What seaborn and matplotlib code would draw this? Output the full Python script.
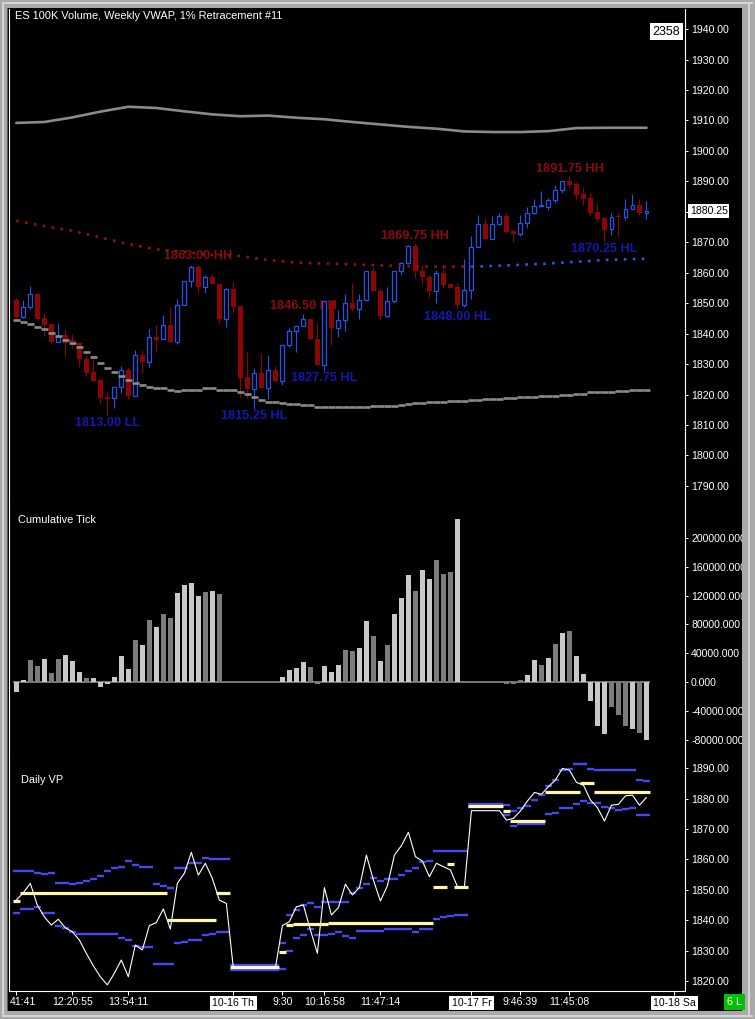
import numpy as np
import matplotlib
matplotlib.use("Agg")
import matplotlib.pyplot as plt
from matplotlib.patches import Rectangle
from matplotlib.ticker import FormatStrFormatter
import seaborn as sns

# ---- price bars (100K volume each) ----
opens = [1851.0, 1845.6, 1848.9, 1853.0, 1845.0, 1843.1, 1837.4, 1839.5, 1837.9, 1836.8,
         1831.6, 1827.3, 1824.8, 1819.1, 1818.8, 1822.4, 1828.1, 1819.6, 1832.9, 1830.8,
         1838.9, 1838.1, 1842.8, 1837.1, 1849.3, 1857.2, 1861.8, 1855.2, 1858.5, 1856.2,
         1844.7, 1854.6, 1849.1, 1825.7, 1821.7, 1827.0, 1822.1, 1828.0, 1824.6, 1836.2,
         1840.8, 1842.4, 1844.8, 1838.2, 1829.6, 1850.7, 1841.7, 1844.5, 1850.0, 1848.2,
         1851.1, 1860.5, 1854.1, 1845.9, 1850.6, 1860.6, 1863.1, 1868.8, 1860.7, 1858.7,
         1854.1, 1859.8, 1856.2, 1855.2, 1849.4, 1854.3, 1868.3, 1876.0, 1871.2, 1876.0,
         1878.6, 1873.7, 1872.6, 1876.4, 1879.5, 1881.9, 1881.7, 1883.9, 1887.2, 1890.0,
         1889.1, 1885.7, 1884.4, 1879.8, 1877.9, 1874.3, 1878.4, 1878.4, 1880.8, 1882.1,
         1879.7]
highs = [1851.6, 1851.0, 1855.6, 1853.2, 1846.7, 1843.1, 1843.4, 1841.4, 1839.9, 1837.2,
         1832.7, 1832.7, 1824.8, 1821.0, 1822.4, 1829.4, 1829.2, 1834.6, 1834.6, 1841.5,
         1842.8, 1846.1, 1848.6, 1851.4, 1857.2, 1862.5, 1863.0, 1859.3, 1859.6, 1856.2,
         1854.9, 1857.3, 1849.1, 1834.1, 1828.6, 1833.6, 1833.0, 1829.4, 1836.2, 1841.9,
         1842.4, 1846.5, 1844.8, 1843.4, 1850.7, 1851.0, 1847.8, 1852.9, 1856.5, 1852.9,
         1860.5, 1862.0, 1854.9, 1855.2, 1860.6, 1863.6, 1869.1, 1869.75, 1862.6, 1859.3,
         1860.9, 1862.6, 1856.5, 1856.5, 1864.4, 1872.1, 1879.0, 1877.9, 1878.6, 1879.5,
         1879.5, 1874.2, 1879.0, 1881.7, 1884.1, 1886.8, 1884.4, 1888.8, 1890.2, 1891.75,
         1889.9, 1888.3, 1886.6, 1882.6, 1878.4, 1879.7, 1879.5, 1884.1, 1885.9, 1884.1,
         1883.7]
lows = [1845.0, 1845.0, 1848.0, 1844.5, 1839.2, 1836.8, 1837.1, 1832.7, 1835.2, 1828.9,
        1826.1, 1824.6, 1817.1, 1813.0, 1815.5, 1820.4, 1818.5, 1819.6, 1827.0, 1829.0,
        1834.1, 1838.1, 1837.1, 1836.5, 1849.3, 1855.4, 1853.8, 1853.2, 1856.2, 1843.2,
        1842.3, 1846.7, 1819.3, 1819.0, 1815.25, 1822.1, 1818.5, 1824.6, 1823.0, 1835.5,
        1834.1, 1842.4, 1838.2, 1829.6, 1827.75, 1836.3, 1839.0, 1841.0, 1847.4, 1844.7,
        1850.6, 1854.1, 1844.8, 1845.4, 1850.0, 1859.3, 1863.1, 1858.2, 1856.0, 1852.2,
        1850.0, 1855.0, 1855.1, 1848.0, 1848.9, 1851.3, 1868.3, 1871.2, 1871.2, 1876.0,
        1872.9, 1870.2, 1872.2, 1874.6, 1879.3, 1881.7, 1880.6, 1882.8, 1886.3, 1888.3,
        1884.1, 1882.2, 1879.0, 1876.7, 1870.25, 1872.4, 1871.8, 1877.3, 1880.8, 1879.0,
        1877.5]
closes = [1845.6, 1848.9, 1852.9, 1844.7, 1842.8, 1837.4, 1839.2, 1836.8, 1837.3, 1831.6,
          1827.2, 1824.6, 1819.0, 1818.7, 1822.4, 1828.1, 1819.6, 1832.9, 1830.8, 1838.8,
          1838.0, 1842.7, 1837.1, 1849.3, 1857.2, 1861.8, 1855.2, 1858.5, 1856.2, 1844.7,
          1854.6, 1848.9, 1825.6, 1821.7, 1827.0, 1822.1, 1828.0, 1824.6, 1836.2, 1840.8,
          1842.4, 1844.8, 1838.2, 1829.6, 1850.7, 1841.7, 1844.5, 1850.0, 1848.2, 1851.1,
          1860.5, 1854.1, 1845.9, 1850.6, 1860.6, 1863.1, 1868.8, 1860.7, 1858.7, 1854.1,
          1859.8, 1856.0, 1855.1, 1849.4, 1854.3, 1868.3, 1876.0, 1871.2, 1876.0, 1878.6,
          1873.5, 1872.6, 1876.4, 1879.5, 1881.9, 1882.0, 1883.9, 1887.2, 1890.0, 1888.8,
          1885.6, 1884.1, 1879.7, 1877.8, 1874.0, 1878.4, 1878.2, 1880.8, 1882.1, 1879.7,
          1880.25]

# swing point labels (bar index, tag)
swing_bar = [13, 26, 34, 41, 44, 57, 63, 79, 84]
swing_tag = ['LL', 'HH', 'HL', 'LH', 'HL', 'HH', 'HL', 'HH', 'HL']

# weekly VWAP (dotted) and its bands (gray)
vwap_bar = [0, 4, 8, 12, 16, 20, 24, 28, 32, 36, 40, 46, 52, 60, 65, 70, 75, 80, 84, 90]
vwap_val = [1877.1, 1875.3, 1873.8, 1871.6, 1869.4, 1867.7, 1866.8, 1865.8, 1865.5, 1864.2,
            1863.3, 1862.9, 1862.4, 1862.0, 1862.0, 1862.4, 1862.9, 1863.6, 1864.2, 1864.6]
vwap_flip = 65  # dots turn blue from here on
upper_bar = [0, 4, 8, 12, 16, 20, 24, 28, 32, 36, 40, 44, 48, 52, 56, 60, 64, 68, 72, 76,
             80, 84, 88, 90]
upper_val = [1909.2, 1909.5, 1911.0, 1912.9, 1914.5, 1914.1, 1913.0, 1912.0, 1911.4, 1911.6,
             1910.9, 1910.4, 1909.5, 1908.7, 1907.9, 1907.3, 1906.4, 1906.2, 1906.2, 1906.5,
             1907.5, 1907.6, 1907.6, 1907.6]
lower_val = [1844.6, 1843.9, 1843.3, 1842.3, 1841.6, 1840.3, 1839.2, 1838.0, 1837.0, 1835.7,
             1834.1, 1832.4, 1830.5, 1828.8, 1827.5, 1826.2, 1824.9, 1823.9, 1823.3, 1822.6,
             1822.3, 1822.0, 1821.5, 1821.3, 1821.6, 1821.6, 1821.6, 1822.0, 1822.0, 1821.5,
             1821.5, 1821.5, 1821.0, 1820.1, 1819.3, 1818.3, 1817.7, 1817.7, 1817.3, 1816.8,
             1816.8, 1816.6, 1816.6, 1816.0, 1816.0, 1816.0, 1816.0, 1816.0, 1816.0, 1816.0,
             1816.0, 1816.3, 1816.3, 1816.3, 1816.4, 1816.7, 1816.8, 1817.1, 1817.2, 1817.5,
             1817.5, 1817.5, 1817.8, 1817.9, 1817.9, 1818.1, 1818.1, 1818.5, 1818.5, 1818.5,
             1818.8, 1818.8, 1819.2, 1819.2, 1819.2, 1819.6, 1819.6, 1819.6, 1819.9, 1819.9,
             1820.3, 1820.3, 1820.8, 1820.8, 1821.0, 1821.0, 1821.3, 1821.3, 1821.6, 1821.6,
             1821.6]

# ---- cumulative tick ----
cum_tick = [-14300, 3200, 30900, 22600, 32300, 12000, 32300, 37800, 29500, 14300,
            6000, 6000, -7400, -2800, 7400, 36400, 18400, 58500, 51600, 86200,
            77000, 94000, 89400, 123500, 134100, 137300, 119300, 124900, 126300, 122100,
            0, 0, 0, 0, 0, 0, 0, 0, 7400, 17000,
            19800, 28100, 21200, -2800, 22600, 14300, 24000, 44700, 43300, 47500,
            84800, 64100, 29500, 51600, 94500, 116600, 148400, 126300, 155300, 142800,
            169100, 149800, 152500, 226700, 1400, 0, 0, 0, 0, 0,
            -2800, -2800, 2800, 10100, 30900, 24000, 33600, 53000, 68200, 71000,
            36400, 11500, -26700, -60400, -72800, -35000, -45200, -60400, -65900, -71400,
            -80600]
tick_shade = ("LLDDLDDLLL" "DLLLLLLDLD" "LDDLLLLDLD" "DDDDDDDDLL" "LLDDLLLDDL"
              "LDLDLLLDLL" "DDDLDDDDDD" "DDDLLDLDLD" "LLLLLDDDLDL")

# ---- daily volume profile: value area high / low and POC as step runs ----
vah_start = [0, 3, 4, 5, 6, 8, 9, 10, 11, 12, 13, 14, 15, 16, 17, 18, 20, 21, 22, 23, 25,
             27, 28, 31, 38, 39, 40, 41, 42, 43, 44, 48, 49, 50, 51, 52, 53, 54, 55, 56, 57,
             58, 59, 60, 65, 70, 71, 72, 73, 74, 75, 76, 77, 78, 79, 80, 82, 83, 89, 90]
vah_level = [1856.3, 1855.6, 1855.1, 1855.6, 1852.1, 1851.8, 1852.1, 1852.9, 1853.6, 1854.6,
             1856.3, 1857.3, 1857.6, 1859.6, 1858.3, 1857.6, 1851.8, 1851.3, 1850.7, 1857.3,
             1858.7, 1860.5, 1860.2, 1825.3, 1832.6, 1841.7, 1843.4, 1845.0, 1845.8, 1844.4,
             1846.1, 1848.8, 1850.7, 1852.0, 1853.8, 1852.9, 1853.4, 1853.6, 1854.8, 1856.2,
             1857.3, 1859.0, 1859.4, 1862.7, 1878.2, 1877.8, 1875.9, 1877.0, 1877.6, 1879.6,
             1881.1, 1884.2, 1886.2, 1889.4, 1889.7, 1891.4, 1889.7, 1889.4, 1886.2, 1885.7]
val_start = [0, 1, 3, 4, 6, 7, 8, 9, 15, 16, 17, 18, 20, 23, 24, 25, 27, 28, 29, 31, 38,
             39, 40, 41, 42, 43, 45, 46, 47, 48, 49, 53, 57, 58, 60, 61, 62, 63, 65, 70, 71,
             72, 76, 77, 78, 80, 81, 82, 84, 85, 86, 87, 88, 89]
val_level = [1842.5, 1843.7, 1844.2, 1842.5, 1838.2, 1837.3, 1836.2, 1835.4, 1834.2, 1833.5,
             1831.6, 1831.3, 1825.7, 1832.6, 1832.9, 1833.4, 1835.1, 1835.6, 1836.2, 1823.5,
             1824.0, 1830.0, 1834.2, 1835.1, 1837.0, 1835.1, 1835.3, 1836.0, 1834.9, 1834.2,
             1836.5, 1837.2, 1836.2, 1837.2, 1840.5, 1841.1, 1841.5, 1841.8, 1877.1, 1874.6,
             1871.0, 1871.7, 1874.9, 1875.2, 1877.0, 1878.2, 1879.3, 1878.6, 1877.3, 1877.0,
             1876.3, 1876.6, 1877.0, 1874.6]
poc_start = [0, 1, 22, 29, 31, 38, 39, 40, 45, 60, 62, 63, 65, 70, 71, 76, 81, 83]
poc_level = [1846.3, 1848.9, 1840.05, 1848.9, 1824.7, 1829.6, 1838.4, 1838.6, 1838.95, 1850.8,
             1858.4, 1850.8, 1877.6, 1875.9, 1872.6, 1882.0, 1885.0, 1882.0]
vp_close = [1846.6, 1849.0, 1852.1, 1845.0, 1841.1, 1838.4, 1840.3, 1837.5, 1836.2, 1833.5,
            1829.1, 1825.0, 1821.4, 1818.7, 1822.5, 1826.9, 1821.4, 1831.8, 1830.2, 1838.2,
            1839.2, 1843.7, 1837.1, 1852.1, 1855.4, 1862.3, 1854.8, 1858.7, 1853.7, 1846.6,
            1845.5, 1824.2, 1824.2, 1824.2, 1824.2, 1824.2, 1824.2, 1824.2, 1838.2, 1839.5,
            1844.4, 1845.0, 1836.8, 1829.1, 1850.7, 1841.7, 1844.1, 1851.8, 1848.3, 1850.7,
            1861.4, 1853.2, 1846.3, 1851.3, 1861.4, 1864.5, 1868.9, 1860.9, 1859.4, 1854.3,
            1858.7, 1857.6, 1856.5, 1851.0, 1851.0, 1876.0, 1876.0, 1876.0, 1876.0, 1876.0,
            1872.9, 1873.5, 1875.9, 1879.2, 1882.0, 1881.4, 1883.9, 1886.1, 1889.9, 1889.3,
            1885.3, 1884.4, 1879.5, 1877.0, 1872.6, 1877.8, 1878.1, 1880.9, 1881.1, 1877.8,
            1880.4]

# time axis
tick_bars = [0, 8, 16, 31, 38, 44, 52, 65, 72, 79, 94]
tick_labels = ['41:41', '12:20:55', '13:54:11', '10-16 Th', '9:30', '10:16:58', '11:47:14',
               '10-17 Fr', '9:46:39', '11:45:08', '10-18 Sa']

RED = '#8c0505'
BLUE = '#2255e8'
RED_TXT = '#880c0c'
BLUE_TXT = '#1616b0'
GRAY = '#8a8a8a'
VA_BLUE = '#4848f2'
POC_YEL = '#fff7a8'

sns.set_theme(style='dark')
plt.rcParams['font.family'] = ['Liberation Sans', 'DejaVu Sans']

W, H = 755, 1019
fig = plt.figure(figsize=(W / 100, H / 100), dpi=100, facecolor='black')


def rect(x0, y0, x1, y1):
    # pixel box (from top-left) -> figure fraction
    return [x0 / W, 1 - y1 / H, (x1 - x0) / W, (y1 - y0) / H]


ax_top = fig.add_axes(rect(9, 9, 685, 503))
ax_mid = fig.add_axes(rect(9, 503, 685, 752))
ax_bot = fig.add_axes(rect(9, 752, 685, 991))

n = len(closes)
x = np.arange(n)
o, h, l, c = map(np.array, (opens, highs, lows, closes))

for ax in (ax_top, ax_mid, ax_bot):
    ax.set_facecolor('black')
    ax.grid(False)
    ax.set_xlim(-1.04, 95.5)
    for side in ('top', 'bottom'):
        ax.spines[side].set_visible(False)
    for side in ('left', 'right'):
        ax.spines[side].set_color('white')
        ax.spines[side].set_linewidth(0.8)
    ax.yaxis.set_ticks_position('right')
    ax.tick_params(axis='y', right=True, left=False, labelright=True, labelleft=False,
                   direction='out', length=2.2, width=0.7, color='white',
                   labelcolor='white', labelsize=7.6, pad=2.2)
    ax.tick_params(axis='x', bottom=False, labelbottom=False)

# ---------------- top panel ----------------
ax_top.set_ylim(1784.4, 1946.6)
ax_top.set_yticks(np.arange(1790, 1941, 10))
ax_top.yaxis.set_major_formatter(FormatStrFormatter('%.2f'))

up = c >= o
ax_top.vlines(x, l, h, colors=np.where(up, BLUE, RED), linewidth=0.8, zorder=3)
body_lo = np.minimum(o, c)
body_h = np.maximum(np.abs(c - o), 0.35)
ax_top.bar(x[~up], body_h[~up], bottom=body_lo[~up], width=0.7, color=RED,
           linewidth=0, zorder=4)
ax_top.bar(x[up], body_h[up], bottom=body_lo[up], width=0.56, facecolor='black',
           edgecolor=BLUE, linewidth=0.9, zorder=4)

# VWAP bands
sns.lineplot(x=upper_bar, y=upper_val, ax=ax_top, color=GRAY, linewidth=1.9, zorder=5)
ax_top.hlines(lower_val, x - 0.5, x + 0.5, colors=GRAY, linewidth=1.9, zorder=5)

# dotted weekly VWAP, red below / blue above
vb = np.array(vwap_bar)
vv = np.array(vwap_val)
dots = dict(linewidth=1.9, linestyle=(0, (1, 2.4)), dash_capstyle='butt', zorder=5)
ax_top.plot(vb[vb <= vwap_flip], vv[vb <= vwap_flip], color='#921212', **dots)
ax_top.plot(vb[vb >= vwap_flip], vv[vb >= vwap_flip], color='#2b58e0', **dots)

for b, tag in zip(swing_bar, swing_tag):
    if tag.endswith('H'):
        val, col, va, dy = highs[b], RED_TXT, 'bottom', 1.0
    else:
        val, col, va, dy = lows[b], BLUE_TXT, 'top', -1.0
    ax_top.annotate(f'{val:.2f} {tag}', xy=(b, val), xytext=(0, dy),
                    textcoords='offset points', ha='center', va=va, color=col,
                    fontsize=9.2, fontweight='bold', zorder=2)

ax_top.annotate(f'{closes[-1]:.2f}', xy=(1, closes[-1]), xycoords=('axes fraction', 'data'),
                xytext=(3.4, 0), textcoords='offset points', ha='left', va='center',
                color='black', fontsize=7.6, annotation_clip=False,
                bbox=dict(boxstyle='square,pad=0.15', fc='white', ec='none'))
ax_top.text(0.993, 1 - (32 - 9) / 494, '2358', transform=ax_top.transAxes, ha='right',
            va='center', color='black', fontsize=9,
            bbox=dict(boxstyle='square,pad=0.2', fc='white', ec='none'))

# ---------------- middle panel ----------------
ax_mid.set_ylim(-97200, 248600)
ax_mid.set_yticks(np.arange(-80000, 200001, 40000))
ax_mid.yaxis.set_major_formatter(FormatStrFormatter('%.3f'))
shade = np.array([ch == 'L' for ch in tick_shade])
ax_mid.hlines(0, -0.5, n - 0.5, colors='#808080', linewidth=1.3, zorder=2)
ax_mid.bar(x, cum_tick, width=0.74, color=np.where(shade, '#c8c8c8', '#7c7c7c'),
           linewidth=0, zorder=3)

# ---------------- bottom panel ----------------
ax_bot.set_ylim(1816.7, 1895.3)
ax_bot.set_yticks(np.arange(1820, 1891, 10))
ax_bot.yaxis.set_major_formatter(FormatStrFormatter('%.2f'))
ax_bot.spines['bottom'].set_visible(True)
ax_bot.spines['bottom'].set_color('white')
ax_bot.spines['bottom'].set_linewidth(0.8)


def draw_runs(ax, starts, levels, color, lw, z):
    s = np.array(starts)
    e = np.append(s[1:], n)
    ax.hlines(levels, s - 0.5, e - 0.5, colors=color, linewidth=lw, zorder=z)


draw_runs(ax_bot, vah_start, vah_level, VA_BLUE, 1.7, 3)
draw_runs(ax_bot, val_start, val_level, VA_BLUE, 1.7, 3)
draw_runs(ax_bot, poc_start, poc_level, POC_YEL, 2.3, 4)
sns.lineplot(x=x, y=vp_close, ax=ax_bot, color='white', linewidth=0.8, zorder=6)

ax_bot.set_xticks(tick_bars)
ax_bot.tick_params(axis='x', bottom=True, labelbottom=False, direction='out', length=2.9,
                   width=0.7, color='white')
for b, lab in zip(tick_bars, tick_labels):
    kw = dict(xy=(b, 0), xycoords=('data', 'axes fraction'), textcoords='offset points',
              va='top', fontsize=7.6, annotation_clip=False)
    if '-' in lab:
        ax_bot.annotate(lab, xytext=(0, -5), ha='center', color='black',
                        bbox=dict(boxstyle='square,pad=0.22', fc='white', ec='none'), **kw)
    elif b == tick_bars[0]:
        ax_bot.annotate(lab, xytext=(-4.6, -4), ha='left', color='white', **kw)
    else:
        ax_bot.annotate(lab, xytext=(0, -4), ha='center', color='white', **kw)
for ax in (ax_top, ax_mid, ax_bot):
    ax.set_xlabel('')
    ax.set_ylabel('')

# panel captions
fig.text(15 / W, 1 - 16 / H, 'ES 100K Volume, Weekly VWAP, 1% Retracement #11',
         color='white', fontsize=7.9, ha='left', va='center')
fig.text(18 / W, 1 - 520 / H, 'Cumulative Tick', color='white', fontsize=7.9,
         ha='left', va='center')
fig.text(21 / W, 1 - 780 / H, 'Daily VP', color='white', fontsize=7.9,
         ha='left', va='center')
fig.text(734.5 / W, 1 - 1002 / H, '6 L', color='white', fontsize=7.8, ha='center',
         va='center', zorder=30,
         bbox=dict(boxstyle='square,pad=0.3', fc='#00c000', ec='none'))

# window frame
for (x0, y0, x1, y1) in [(0, 0, 8, H), (742, 0, W, H), (0, 0, W, 8), (0, 1011, W, H)]:
    fig.add_artist(Rectangle((x0 / W, 1 - y1 / H), (x1 - x0) / W, (y1 - y0) / H,
                             transform=fig.transFigure, facecolor='#a9a9a9',
                             edgecolor='none', zorder=20))
for (x0, y0, x1, y1) in [(2, 2, 4, H - 2), (748, 2, 750, H - 2), (2, 2, W - 2, 4),
                         (2, 1015, W - 2, 1017)]:
    fig.add_artist(Rectangle((x0 / W, 1 - y1 / H), (x1 - x0) / W, (y1 - y0) / H,
                             transform=fig.transFigure, facecolor='#d6d6d6',
                             edgecolor='none', zorder=21))
fig.add_artist(Rectangle((7 / W, 1 - 1011 / H), 1 / W, 1003 / H, transform=fig.transFigure,
                         facecolor='#5a5a5a', edgecolor='none', zorder=21))

fig.savefig('out.png', dpi=100, facecolor='black')
